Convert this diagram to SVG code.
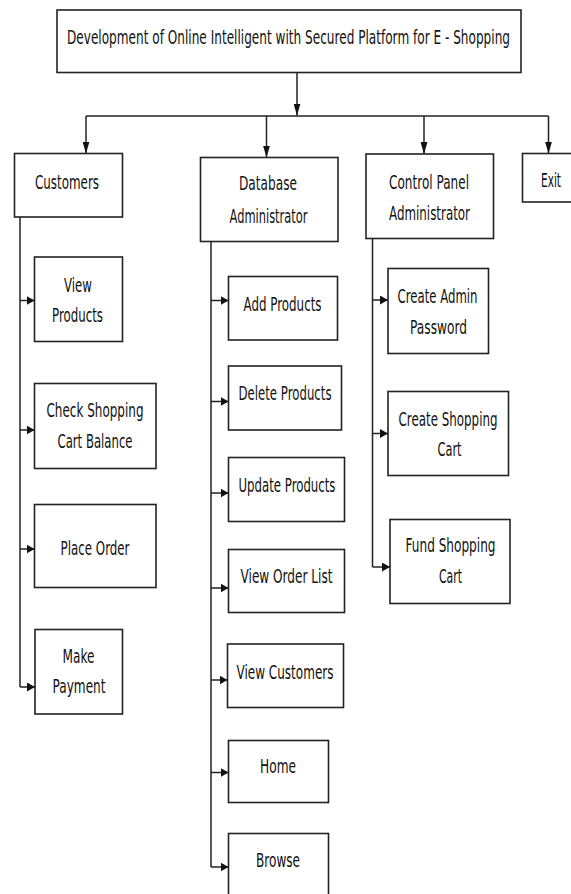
<svg xmlns="http://www.w3.org/2000/svg" width="571" height="894" viewBox="0 0 571 894">
<style>
.box{fill:#fff;stroke:#222;stroke-width:1.6}
.t{font-family:"DejaVu Sans","Liberation Sans",sans-serif;font-size:20px;fill:#111}
.c{fill:none;stroke:#222;stroke-width:1.5}
</style>
<defs>
<marker id="av" viewBox="0 0 12 7" refX="12" refY="3.5" markerWidth="12" markerHeight="7" markerUnits="userSpaceOnUse" orient="auto"><path d="M0,0 L12,3.5 L0,7 z" fill="#111"/></marker>
<marker id="ah" viewBox="0 0 8 9" refX="8" refY="4.5" markerWidth="8" markerHeight="9" markerUnits="userSpaceOnUse" orient="auto"><path d="M0,0 L8,4.5 L0,9 z" fill="#111"/></marker>
</defs>
<rect width="571" height="894" fill="#fff"/>
<g id="connectors">
<path class="c" d="M297,72.5 V115.5" marker-end="url(#av)"/>
<path class="c" d="M86,116 H548.5"/>
<path class="c" d="M86,116 V153.5" marker-end="url(#av)"/>
<path class="c" d="M266.5,116 V157.5" marker-end="url(#av)"/>
<path class="c" d="M424,116 V154" marker-end="url(#av)"/>
<path class="c" d="M548.5,116 V153.5" marker-end="url(#av)"/>
<path class="c" d="M20,217 V687"/>
<path class="c" d="M20,300.5 H34.5" marker-end="url(#ah)"/>
<path class="c" d="M20,430 H34.5" marker-end="url(#ah)"/>
<path class="c" d="M20,549 H34.5" marker-end="url(#ah)"/>
<path class="c" d="M20,687 H35" marker-end="url(#ah)"/>
<path class="c" d="M211,241.5 V867"/>
<path class="c" d="M211,300.5 H228.5" marker-end="url(#ah)"/>
<path class="c" d="M211,401.5 H228.5" marker-end="url(#ah)"/>
<path class="c" d="M211,493 H228.5" marker-end="url(#ah)"/>
<path class="c" d="M211,588 H228.5" marker-end="url(#ah)"/>
<path class="c" d="M211,680 H227.5" marker-end="url(#ah)"/>
<path class="c" d="M211,772.5 H228.5" marker-end="url(#ah)"/>
<path class="c" d="M211,867 H228.5" marker-end="url(#ah)"/>
<path class="c" d="M372.5,238.5 V567"/>
<path class="c" d="M372.5,300 H388" marker-end="url(#ah)"/>
<path class="c" d="M372.5,433.5 H388" marker-end="url(#ah)"/>
<path class="c" d="M372.5,567 H390" marker-end="url(#ah)"/>
</g>
<g id="root"><rect class="box" x="57" y="10" width="464" height="62.5"/><text class="t" x="67" y="44" textLength="443" lengthAdjust="spacingAndGlyphs">Development of Online Intelligent with Secured Platform for E - Shopping</text></g>
<g id="customers"><rect class="box" x="14.5" y="153.5" width="108" height="63.5"/><text class="t" x="35" y="188.5" textLength="64" lengthAdjust="spacingAndGlyphs">Customers</text></g>
<g id="dbadmin"><rect class="box" x="200.5" y="157.5" width="137.5" height="84"/><text class="t" x="239" y="189.5" textLength="58" lengthAdjust="spacingAndGlyphs">Database</text><text class="t" x="229.5" y="223" textLength="78" lengthAdjust="spacingAndGlyphs">Administrator</text></g>
<g id="cpadmin"><rect class="box" x="366" y="154" width="127.5" height="84.5"/><text class="t" x="389" y="188.5" textLength="80" lengthAdjust="spacingAndGlyphs">Control Panel</text><text class="t" x="389" y="219.5" textLength="81" lengthAdjust="spacingAndGlyphs">Administrator</text></g>
<g id="exit"><rect class="box" x="522.5" y="153.5" width="52" height="48.5"/><text class="t" x="541" y="186.5" textLength="20" lengthAdjust="spacingAndGlyphs">Exit</text></g>
<g id="viewproducts"><rect class="box" x="34.5" y="257" width="88" height="84.5"/><text class="t" x="64" y="291.5" textLength="28" lengthAdjust="spacingAndGlyphs">View</text><text class="t" x="52" y="321.5" textLength="51" lengthAdjust="spacingAndGlyphs">Products</text></g>
<g id="checkcart"><rect class="box" x="34.5" y="383.5" width="121.5" height="85"/><text class="t" x="46.5" y="416.5" textLength="97" lengthAdjust="spacingAndGlyphs">Check Shopping</text><text class="t" x="57.5" y="448" textLength="75" lengthAdjust="spacingAndGlyphs">Cart Balance</text></g>
<g id="placeorder"><rect class="box" x="34.5" y="504.5" width="121.5" height="83"/><text class="t" x="60.5" y="555" textLength="69" lengthAdjust="spacingAndGlyphs">Place Order</text></g>
<g id="makepayment"><rect class="box" x="35" y="629.5" width="87.5" height="84.5"/><text class="t" x="62.5" y="662.5" textLength="32" lengthAdjust="spacingAndGlyphs">Make</text><text class="t" x="52.5" y="693" textLength="53" lengthAdjust="spacingAndGlyphs">Payment</text></g>
<g id="addproducts"><rect class="box" x="228.5" y="276.5" width="109" height="63.5"/><text class="t" x="243.5" y="310.5" textLength="78" lengthAdjust="spacingAndGlyphs">Add Products</text></g>
<g id="deleteproducts"><rect class="box" x="228.5" y="366" width="113" height="64"/><text class="t" x="238.5" y="400" textLength="93" lengthAdjust="spacingAndGlyphs">Delete Products</text></g>
<g id="updateproducts"><rect class="box" x="228.5" y="457.5" width="116" height="64"/><text class="t" x="238.5" y="492" textLength="97" lengthAdjust="spacingAndGlyphs">Update Products</text></g>
<g id="vieworderlist"><rect class="box" x="228.5" y="549.5" width="116" height="63"/><text class="t" x="240.5" y="582.5" textLength="92" lengthAdjust="spacingAndGlyphs">View Order List</text></g>
<g id="viewcustomers"><rect class="box" x="227.5" y="644" width="116" height="63.5"/><text class="t" x="236.5" y="678.5" textLength="97" lengthAdjust="spacingAndGlyphs">View Customers</text></g>
<g id="home"><rect class="box" x="228.5" y="740.5" width="100" height="62"/><text class="t" x="260" y="772.5" textLength="36" lengthAdjust="spacingAndGlyphs">Home</text></g>
<g id="browse"><rect class="box" x="228.5" y="833.5" width="100" height="70"/><text class="t" x="256" y="867" textLength="44" lengthAdjust="spacingAndGlyphs">Browse</text></g>
<g id="createadmin"><rect class="box" x="388" y="268.5" width="100.5" height="85"/><text class="t" x="397.5" y="303" textLength="80" lengthAdjust="spacingAndGlyphs">Create Admin</text><text class="t" x="410" y="334" textLength="57" lengthAdjust="spacingAndGlyphs">Password</text></g>
<g id="createcart"><rect class="box" x="388" y="391.5" width="120.5" height="84"/><text class="t" x="398.5" y="425.5" textLength="99" lengthAdjust="spacingAndGlyphs">Create Shopping</text><text class="t" x="437.5" y="456" textLength="24" lengthAdjust="spacingAndGlyphs">Cart</text></g>
<g id="fundcart"><rect class="box" x="390" y="519.5" width="120" height="84"/><text class="t" x="405.5" y="552" textLength="90" lengthAdjust="spacingAndGlyphs">Fund Shopping</text><text class="t" x="439" y="582.5" textLength="23" lengthAdjust="spacingAndGlyphs">Cart</text></g>
</svg>
